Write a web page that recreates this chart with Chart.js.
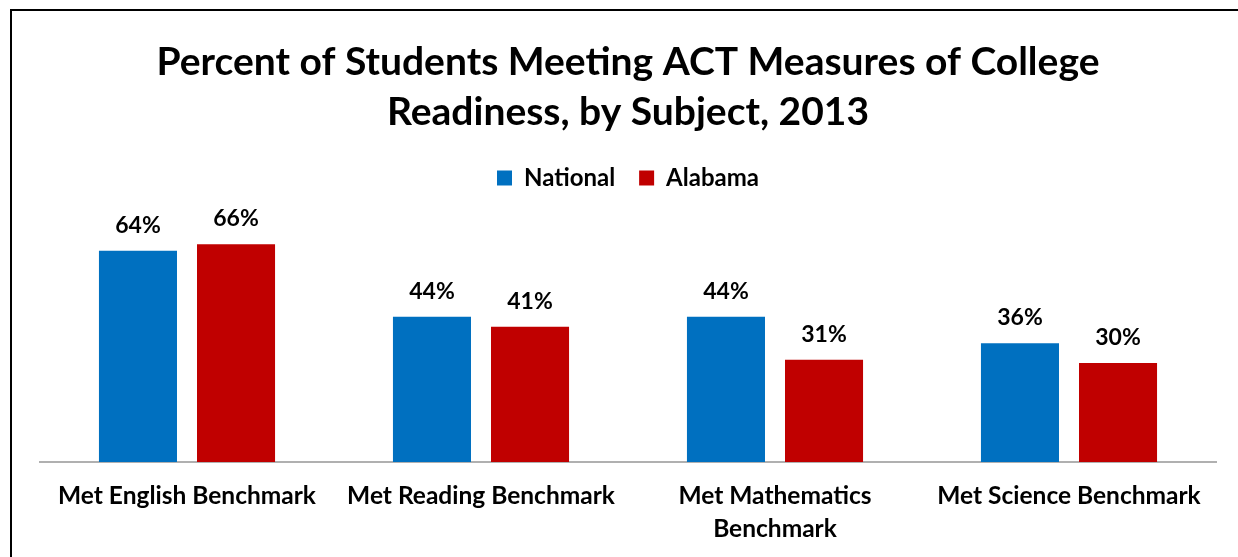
<!DOCTYPE html>
<html>
<head>
<meta charset="utf-8">
<script src="https://cdn.jsdelivr.net/npm/chart.js@4"></script>
<style>
  html, body { margin: 0; padding: 0; background: #fff; }
  #wrap { position: relative; width: 1238px; height: 557px; }
</style>
</head>
<body>
<div id="wrap"><canvas id="c" width="1238" height="557"></canvas></div>
<script>
const categories = [
  "Met English Benchmark",
  "Met Reading Benchmark",
  ["Met Mathematics", "Benchmark"],
  "Met Science Benchmark"
];
const nationalValues = [64, 44, 44, 36];
const alabamaValues = [66, 41, 31, 30];
const seriesNames = ["National", "Alabama"];
const titleLines = ["Percent of Students Meeting ACT Measures of College", "Readiness, by Subject, 2013"];

const FONT = "Lato, 'Open Sans', sans-serif";

const framePlugin = {
  id: 'frame',
  beforeDraw(chart) {
    const ctx = chart.ctx;
    ctx.save();
    ctx.fillStyle = '#fff';
    ctx.fillRect(0, 0, chart.width, chart.height);
    ctx.strokeStyle = '#000';
    ctx.lineWidth = 2;
    ctx.strokeRect(11, 10, 1260, 700);
    ctx.restore();
  }
};

const labelPlugin = {
  id: 'valueLabels',
  afterDatasetsDraw(chart) {
    const ctx = chart.ctx;
    ctx.save();
    ctx.font = "bold 23px " + FONT;
    ctx.fillStyle = '#000';
    ctx.textAlign = 'center';
    ctx.textBaseline = 'alphabetic';
    chart.data.datasets.forEach((ds, i) => {
      const meta = chart.getDatasetMeta(i);
      meta.data.forEach((el, j) => {
        ctx.fillText(ds.data[j] + '%', el.x, el.y - 18);
      });
    });
    ctx.restore();
  }
};

new Chart(document.getElementById('c'), {
  type: 'bar',
  data: {
    labels: categories,
    datasets: [
      { label: seriesNames[0], data: nationalValues, backgroundColor: '#0070C0', borderWidth: 0 },
      { label: seriesNames[1], data: alabamaValues, backgroundColor: '#C00000', borderWidth: 0 }
    ]
  },
  options: {
    responsive: false,
    animation: false,
    devicePixelRatio: 1,
    layout: { padding: { left: 40, right: 22, top: 0, bottom: 0 } },
    datasets: {
      bar: { categoryPercentage: 0.667, barPercentage: 0.796 }
    },
    scales: {
      x: {
        grid: { display: false, drawTicks: false },
        border: { display: true, color: '#b0b0b0', width: 2 },
        ticks: {
          color: '#000',
          font: { family: FONT, size: 24.5, weight: 'bold', lineHeight: 1.36 },
          padding: 17,
          maxRotation: 0,
          autoSkip: false
        },
        afterFit(scale) { scale.height = 95; }
      },
      y: {
        display: false,
        min: 0,
        max: 79.4
      }
    },
    plugins: {
      title: {
        display: true,
        text: titleLines,
        color: '#000',
        font: { family: FONT, size: 39, weight: 'bold', lineHeight: 1.282 },
        padding: { top: 37, bottom: 5 }
      },
      legend: {
        display: true,
        position: 'top',
        labels: {
          color: '#000',
          boxWidth: 15,
          boxHeight: 15,
          padding: 24,
          font: { family: FONT, size: 24, weight: 'bold' }
        }
      },
      tooltip: { enabled: false }
    }
  },
  plugins: [framePlugin, labelPlugin]
});
</script>
</body>
</html>
